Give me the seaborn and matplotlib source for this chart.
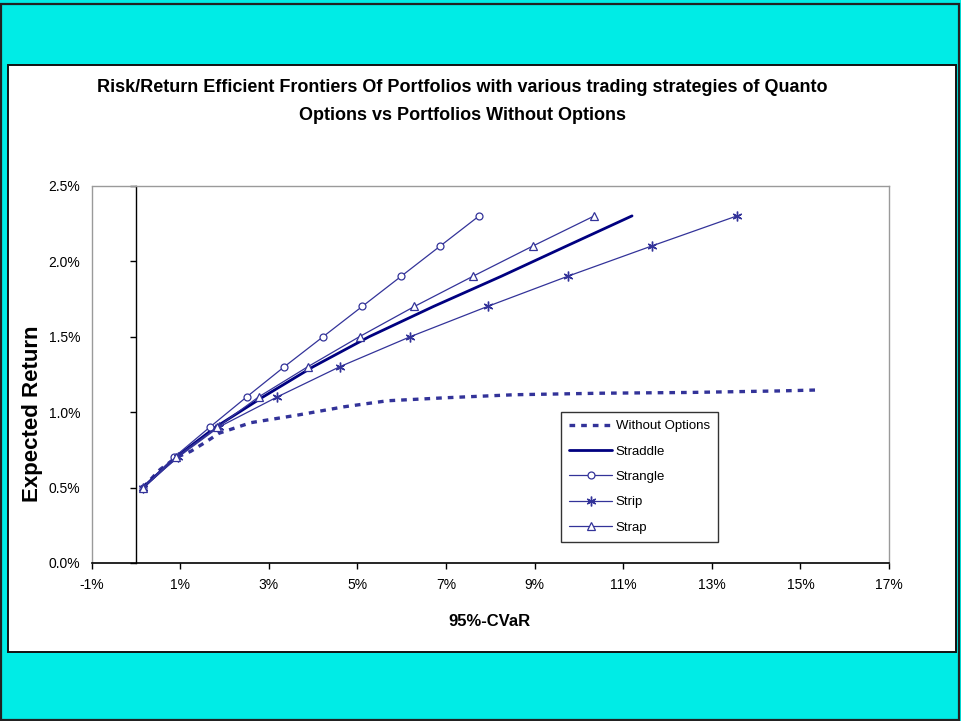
import matplotlib
matplotlib.use("Agg")
import matplotlib.pyplot as plt
from matplotlib.patches import Rectangle
from matplotlib.lines import Line2D
from matplotlib.ticker import FuncFormatter, FixedLocator
import seaborn as sns
import pandas as pd

# ---------------- data (percent units) ----------------
returns = [0.5, 0.7, 0.9, 1.1, 1.3, 1.5, 1.7, 1.9, 2.1, 2.3]
straddle_cvar = [0.16, 0.90, 1.80, 2.87, 4.00, 5.27, 6.72, 8.25, 9.72, 11.20]
strangle_cvar = [0.17, 0.86, 1.67, 2.50, 3.35, 4.23, 5.11, 5.99, 6.87, 7.75]
strip_cvar = [0.16, 0.95, 1.87, 3.19, 4.60, 6.20, 7.94, 9.75, 11.64, 13.57]
strap_cvar = [0.16, 0.90, 1.84, 2.77, 3.88, 5.05, 6.29, 7.61, 8.96, 10.35]

noopt_cvar = [0.16, 0.55, 0.92, 1.24, 1.57, 1.88, 2.60, 3.65, 4.70, 5.68, 7.00, 8.55, 10.50, 12.50, 14.50, 15.33]
noopt_ret = [0.50, 0.62, 0.70, 0.74, 0.80, 0.86, 0.93, 0.98, 1.035, 1.075, 1.095, 1.115, 1.125, 1.13, 1.14, 1.146]

x_ticks = [-1, 1, 3, 5, 7, 9, 11, 13, 15, 17]
y_ticks = [0.0, 0.5, 1.0, 1.5, 2.0, 2.5]

title_lines = ["Risk/Return Efficient Frontiers Of Portfolios with various trading strategies of Quanto",
               "Options vs Portfolios Without Options"]

# ---------------- style ----------------
sns.set_style("white")
plt.rcParams['font.family'] = ['Liberation Sans', 'DejaVu Sans']
plt.rcParams['text.color'] = 'black'
plt.rcParams['xtick.color'] = 'black'
plt.rcParams['ytick.color'] = 'black'

W, H = 961, 721
CYAN = '#00ECE6'
NAVY = '#000080'
BLUE = '#333399'

fig = plt.figure(figsize=(W / 100, H / 100), dpi=100, facecolor=CYAN)

# outer border and white panel
fig.patches.append(Rectangle((0.001, 0.001), 0.997, 0.994, transform=fig.transFigure,
                             fill=False, edgecolor='#222222', lw=1.6, zorder=-1))
fig.patches.append(Rectangle((8 / W, 1 - 652 / H), (956 - 8) / W, (652 - 65) / H,
                             transform=fig.transFigure, facecolor='white',
                             edgecolor='#111111', lw=1.4, zorder=-2))

ax = fig.add_axes([91.5 / W, 1 - 563 / H, (889 - 91.5) / W, (563 - 185.7) / H])
ax.set_facecolor('white')

# ---------------- series ----------------
df_noopt = pd.DataFrame({'x': noopt_cvar, 'y': noopt_ret})
sns.lineplot(data=df_noopt, x='x', y='y', ax=ax, sort=False, estimator=None,
             color=BLUE, lw=2.4, linestyle=(0, (1.7, 1.8)), dash_capstyle='butt',
             label='Without Options')

df_straddle = pd.DataFrame({'x': straddle_cvar, 'y': returns})
sns.lineplot(data=df_straddle, x='x', y='y', ax=ax, sort=False, estimator=None,
             color=NAVY, lw=2.0, label='Straddle')

df_strangle = pd.DataFrame({'x': strangle_cvar, 'y': returns})
sns.lineplot(data=df_strangle, x='x', y='y', ax=ax, sort=False, estimator=None,
             color=BLUE, lw=0.9, marker='o', markersize=5, markerfacecolor='white',
             markeredgecolor=BLUE, markeredgewidth=0.9, label='Strangle')

df_strip = pd.DataFrame({'x': strip_cvar, 'y': returns})
sns.lineplot(data=df_strip, x='x', y='y', ax=ax, sort=False, estimator=None,
             color=BLUE, lw=0.9, marker=(6, 2, 0), markersize=7,
             markeredgecolor=BLUE, markeredgewidth=1.0, label='Strip')

df_strap = pd.DataFrame({'x': strap_cvar, 'y': returns})
sns.lineplot(data=df_strap, x='x', y='y', ax=ax, sort=False, estimator=None,
             color=BLUE, lw=0.9, marker='^', markersize=5.5, markerfacecolor='white',
             markeredgecolor=BLUE, markeredgewidth=0.9, label='Strap')

# ---------------- axes ----------------
ax.set_xlim(-1, 17)
ax.set_ylim(0, 2.5)
ax.xaxis.set_major_locator(FixedLocator(x_ticks))
ax.yaxis.set_major_locator(FixedLocator(y_ticks))
ax.xaxis.set_major_formatter(FuncFormatter(lambda v, p: f"{v:.0f}%"))
ax.yaxis.set_major_formatter(FuncFormatter(lambda v, p: f"{v:.1f}%"))

for s in ['top', 'right']:
    ax.spines[s].set_color('#9a9a9a')
    ax.spines[s].set_linewidth(1.0)
ax.spines['bottom'].set_color('black')
ax.spines['bottom'].set_linewidth(1.2)
ax.spines['left'].set_position(('data', 0))
ax.spines['left'].set_color('black')
ax.spines['left'].set_linewidth(1.0)
# gray plot-area frame on the left
ax.add_line(Line2D([0, 0], [0, 1], transform=ax.transAxes, color='#9a9a9a', lw=1.0, clip_on=False))

ax.tick_params(axis='x', direction='out', length=4, width=1, color='black',
               labelsize=10, pad=7, bottom=True, labelcolor='black')
ax.tick_params(axis='y', direction='out', length=4, width=1, color='black',
               labelsize=10, pad=36, left=True, labelcolor='black')
ax.set_xlabel('')
ax.set_ylabel('')

fig.text(489 / W, 1 - 621 / H, '95%-CVaR', ha='center', va='center',
         fontsize=12, fontweight='bold', color='black')
fig.text(33 / W, 1 - 414 / H, 'Expected Return', ha='center', va='center',
         rotation=90, fontsize=16, fontweight='bold', color='black')

fig.text(462.5 / W, 1 - 87 / H, title_lines[0], ha='center', va='center',
         fontsize=13.0, fontweight='bold', color='black')
fig.text(462.5 / W, 1 - 116 / H, title_lines[1], ha='center', va='center',
         fontsize=13.0, fontweight='bold', color='black')

# ---------------- legend ----------------
leg = ax.legend(loc='upper left',
                bbox_to_anchor=((561 - 91.5) / (889 - 91.5), (563 - 412) / (563 - 185.7)),
                borderaxespad=0, frameon=True, fancybox=False, shadow=False,
                edgecolor='black', fontsize=9.5, handlelength=3.3, handletextpad=0.25,
                labelspacing=1.0, borderpad=0.6)
leg.get_frame().set_linewidth(1.0)
leg.get_frame().set_facecolor('white')
for t in leg.get_texts():
    t.set_color('black')

fig.savefig('out.png', dpi=100, facecolor=CYAN)
